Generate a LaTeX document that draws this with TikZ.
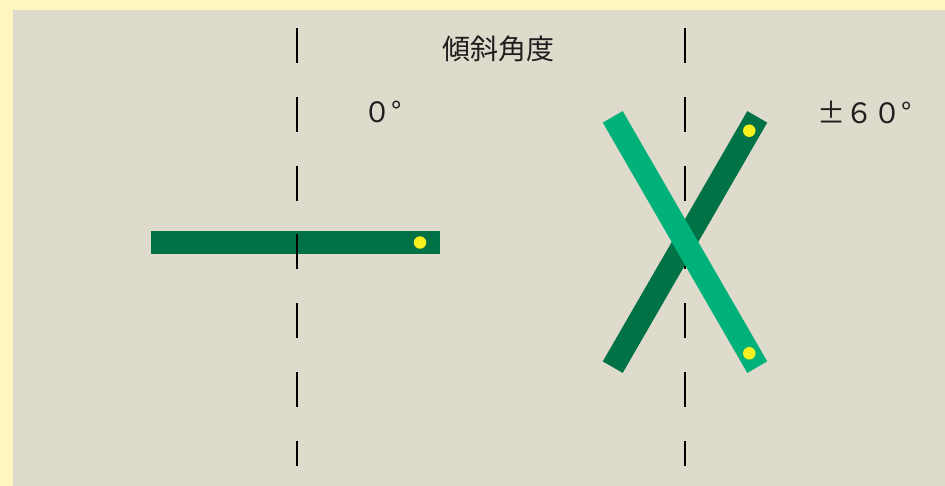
\documentclass[tikz,border=0pt]{standalone}
\usepackage{fontspec}
\newfontfamily\cjk{Noto Sans CJK JP}
\usetikzlibrary{calc}
\definecolor{outerbg}{RGB}{255,245,190}
\definecolor{innerbg}{RGB}{222,219,204}
\definecolor{darkgreen}{RGB}{0,114,69}
\definecolor{lightgreen}{RGB}{0,178,122}
\definecolor{dotyellow}{RGB}{245,240,30}
\definecolor{txt}{RGB}{30,30,30}
\tikzset{
  axisline/.style={line width=2.8pt, black, dash pattern=on 35pt off 33.8pt},
  barbox/.style={minimum width=289pt, minimum height=23pt, inner sep=0pt, outer sep=0pt},
  darkbar/.style={barbox, fill=darkgreen},
  lightbar/.style={barbox, fill=lightgreen},
  marker/.style={circle, fill=dotyellow, minimum size=12.5pt, inner sep=0pt},
  label/.style={font=\cjk\fontsize{28pt}{32pt}\selectfont, text=txt, inner sep=0pt}
}
\begin{document}
\begin{tikzpicture}[x=1pt,y=-1pt]
\useasboundingbox (0,0) rectangle (945,486);
\fill[outerbg] (0,0) rectangle (945,486);
\fill[innerbg] (13,10) rectangle (945,486);
% left: 0 degrees
\coordinate (lt) at (297,28);
\coordinate (lb) at (297,466);
\node[darkbar] (hbar) at (295.5,242.5) {};
\node[marker] (hdot) at ($(hbar.east)!20pt!(hbar.west)$) {};
\draw[axisline] (lt) -- (lb);
% right: +-60 degrees
\coordinate (rt) at (685,28);
\coordinate (rb) at (685,466);
\draw[axisline] (rt) -- (rb);
\node[darkbar, rotate=60] (dbar) at (685,242) {};
\node[lightbar, rotate=-60] (lbar) at (685,242) {};
\node[marker] (ddot) at ($(dbar.east)!16pt!(dbar.west)$) {};
\node[marker] (ldot) at ($(lbar.east)!16pt!(lbar.west)$) {};
% labels
\node[label] (title) at (498,49) {傾斜角度};
\node[label] (zero) at (383,112) {０°};
\node[label] (sixty) at (865,112) {±６０°};
\end{tikzpicture}
\end{document}
